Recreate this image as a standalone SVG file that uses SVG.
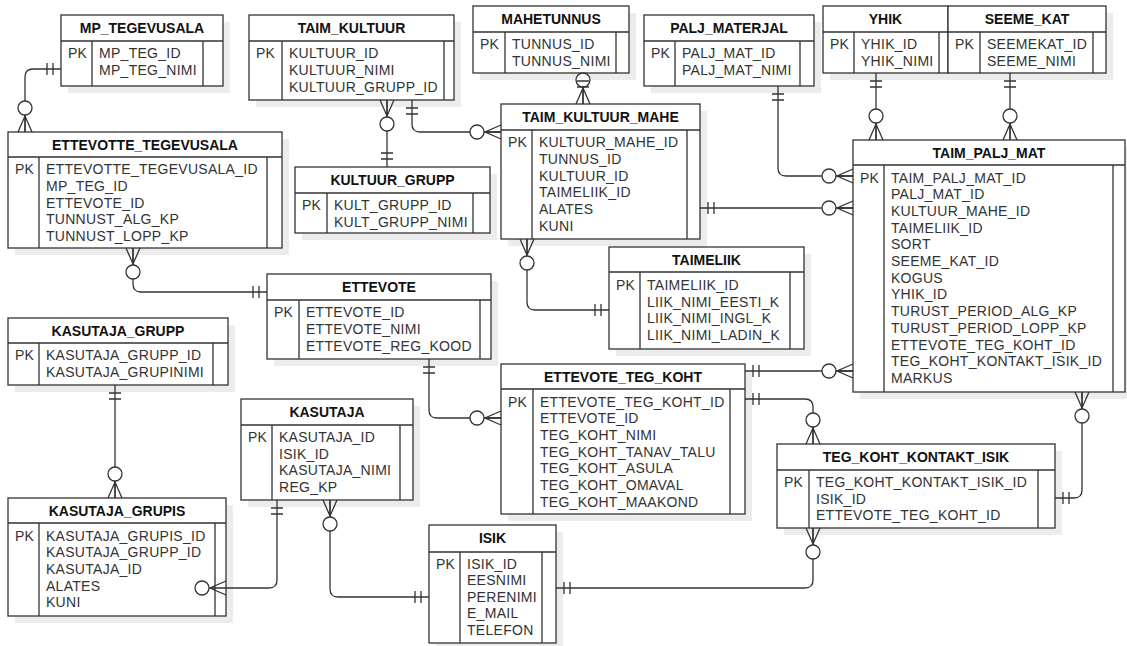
<svg xmlns="http://www.w3.org/2000/svg" xmlns:xlink="http://www.w3.org/1999/xlink" width="1127" height="646" viewBox="0 0 1127 646">
<style>
.sh{fill:#ececec}
.bx{fill:#fff;stroke:#333;stroke-width:1.3}
.dv{stroke:#333;stroke-width:1.3}
.ln{fill:none;stroke:#333;stroke-width:1.3}
.h{font-family:"Liberation Sans",Arial,sans-serif;font-size:14px;font-weight:bold;fill:#111;text-anchor:middle}
.f{font-family:"Liberation Sans",Arial,sans-serif;font-size:14px;fill:#333;letter-spacing:0.28px}
.ci{fill:#fff;stroke:#333;stroke-width:1.3}
</style>
<defs>
<g id="one" class="ln"><path d="M8,-6V6M14,-6V6"/></g>
<g id="zm"><path class="ln" d="M0,-7L16,0L0,7M0,0H17"/><circle class="ci" cx="24" cy="0" r="7"/></g>
</defs>
<rect width="1127" height="646" fill="#fff"/>

<g id="MP_TEGEVUSALA">
<rect class="sh" x="68" y="22" width="162" height="71"/>
<rect class="bx" x="61" y="15" width="162" height="71"/>
<path class="dv" d="M61,41H223M92,41V86M203,41V86"/>
<text class="h" x="142" y="33">MP_TEGEVUSALA</text>
<text class="f" x="68" y="58">PK</text>
<text class="f" x="99" y="58">MP_TEG_ID</text>
<text class="f" x="99" y="75">MP_TEG_NIMI</text>
</g>

<g id="TAIM_KULTUUR">
<rect class="sh" x="256" y="22" width="205" height="85"/>
<rect class="bx" x="249" y="15" width="205" height="85"/>
<path class="dv" d="M249,41H454M282,41V100M444,41V100"/>
<text class="h" x="351.5" y="33">TAIM_KULTUUR</text>
<text class="f" x="256" y="58">PK</text>
<text class="f" x="289" y="58">KULTUUR_ID</text>
<text class="f" x="289" y="75">KULTUUR_NIMI</text>
<text class="f" x="289" y="92">KULTUUR_GRUPP_ID</text>
</g>

<g id="MAHETUNNUS">
<rect class="sh" x="480" y="13" width="156" height="67"/>
<rect class="bx" x="473" y="6" width="156" height="67"/>
<path class="dv" d="M473,32H629M505,32V73M616,32V73"/>
<text class="h" x="551" y="24">MAHETUNNUS</text>
<text class="f" x="480" y="49">PK</text>
<text class="f" x="512" y="49">TUNNUS_ID</text>
<text class="f" x="512" y="66">TUNNUS_NIMI</text>
</g>

<g id="PALJ_MATERJAL">
<rect class="sh" x="651" y="22" width="170" height="71"/>
<rect class="bx" x="644" y="15" width="170" height="71"/>
<path class="dv" d="M644,41H814M675,41V86M800,41V86"/>
<text class="h" x="729" y="33">PALJ_MATERJAL</text>
<text class="f" x="651" y="58">PK</text>
<text class="f" x="682" y="58">PALJ_MAT_ID</text>
<text class="f" x="682" y="75">PALJ_MAT_NIMI</text>
</g>

<g id="YHIK">
<rect class="sh" x="830" y="13" width="125" height="67"/>
<rect class="bx" x="823" y="6" width="125" height="67"/>
<path class="dv" d="M823,32H948M854,32V73M939,32V73"/>
<text class="h" x="885.5" y="24">YHIK</text>
<text class="f" x="830" y="49">PK</text>
<text class="f" x="861" y="49">YHIK_ID</text>
<text class="f" x="861" y="66">YHIK_NIMI</text>
</g>

<g id="SEEME_KAT">
<rect class="sh" x="955" y="13" width="158" height="67"/>
<rect class="bx" x="948" y="6" width="158" height="67"/>
<path class="dv" d="M948,32H1106M980,32V73M1093,32V73"/>
<text class="h" x="1027" y="24">SEEME_KAT</text>
<text class="f" x="955" y="49">PK</text>
<text class="f" x="987" y="49">SEEMEKAT_ID</text>
<text class="f" x="987" y="66">SEEME_NIMI</text>
</g>

<g id="ETTEVOTTE_TEGEVUSALA">
<rect class="sh" x="15" y="139" width="274" height="116"/>
<rect class="bx" x="8" y="132" width="274" height="116"/>
<path class="dv" d="M8,157H282M39,157V248M267,157V248"/>
<text class="h" x="145" y="150">ETTEVOTTE_TEGEVUSALA</text>
<text class="f" x="15" y="174">PK</text>
<text class="f" x="46" y="174">ETTEVOTTE_TEGEVUSALA_ID</text>
<text class="f" x="46" y="191">MP_TEG_ID</text>
<text class="f" x="46" y="207.5">ETTEVOTE_ID</text>
<text class="f" x="46" y="224">TUNNUST_ALG_KP</text>
<text class="f" x="46" y="240.5">TUNNUST_LOPP_KP</text>
</g>

<g id="KULTUUR_GRUPP">
<rect class="sh" x="302" y="174" width="195" height="66"/>
<rect class="bx" x="295" y="167" width="195" height="66"/>
<path class="dv" d="M295,193H490M327,193V233M473,193V233"/>
<text class="h" x="392.5" y="185">KULTUUR_GRUPP</text>
<text class="f" x="302" y="210">PK</text>
<text class="f" x="334" y="210">KULT_GRUPP_ID</text>
<text class="f" x="334" y="227">KULT_GRUPP_NIMI</text>
</g>

<g id="TAIM_KULTUUR_MAHE">
<rect class="sh" x="508" y="111" width="199" height="135"/>
<rect class="bx" x="501" y="104" width="199" height="135"/>
<path class="dv" d="M501,130H700M532,130V239M687,130V239"/>
<text class="h" x="600.5" y="122">TAIM_KULTUUR_MAHE</text>
<text class="f" x="508" y="147">PK</text>
<text class="f" x="539" y="147">KULTUUR_MAHE_ID</text>
<text class="f" x="539" y="164">TUNNUS_ID</text>
<text class="f" x="539" y="180.5">KULTUUR_ID</text>
<text class="f" x="539" y="197">TAIMELIIK_ID</text>
<text class="f" x="539" y="214">ALATES</text>
<text class="f" x="539" y="231">KUNI</text>
</g>

<g id="TAIM_PALJ_MAT">
<rect class="sh" x="860" y="147" width="272" height="252"/>
<rect class="bx" x="853" y="140" width="272" height="252"/>
<path class="dv" d="M853,165H1125M884,165V392M1113,165V392"/>
<text class="h" x="989" y="158">TAIM_PALJ_MAT</text>
<text class="f" x="860" y="182.5">PK</text>
<text class="f" x="891" y="182.5">TAIM_PALJ_MAT_ID</text>
<text class="f" x="891" y="199.2">PALJ_MAT_ID</text>
<text class="f" x="891" y="215.9">KULTUUR_MAHE_ID</text>
<text class="f" x="891" y="232.6">TAIMELIIK_ID</text>
<text class="f" x="891" y="249.3">SORT</text>
<text class="f" x="891" y="266">SEEME_KAT_ID</text>
<text class="f" x="891" y="282.7">KOGUS</text>
<text class="f" x="891" y="299.4">YHIK_ID</text>
<text class="f" x="891" y="316.1">TURUST_PERIOD_ALG_KP</text>
<text class="f" x="891" y="332.8">TURUST_PERIOD_LOPP_KP</text>
<text class="f" x="891" y="349.5">ETTEVOTE_TEG_KOHT_ID</text>
<text class="f" x="891" y="366.2">TEG_KOHT_KONTAKT_ISIK_ID</text>
<text class="f" x="891" y="382.9">MARKUS</text>
</g>

<g id="TAIMELIIK">
<rect class="sh" x="616" y="254" width="195" height="102"/>
<rect class="bx" x="609" y="247" width="195" height="102"/>
<path class="dv" d="M609,272H804M640,272V349M790,272V349"/>
<text class="h" x="706.5" y="265">TAIMELIIK</text>
<text class="f" x="616" y="290">PK</text>
<text class="f" x="647" y="290">TAIMELIIK_ID</text>
<text class="f" x="647" y="306.7">LIIK_NIMI_EESTI_K</text>
<text class="f" x="647" y="323.4">LIIK_NIMI_INGL_K</text>
<text class="f" x="647" y="340.1">LIIK_NIMI_LADIN_K</text>
</g>

<g id="ETTEVOTE">
<rect class="sh" x="274" y="281" width="224" height="85"/>
<rect class="bx" x="267" y="274" width="224" height="85"/>
<path class="dv" d="M267,300H491M299,300V359M480,300V359"/>
<text class="h" x="379" y="292">ETTEVOTE</text>
<text class="f" x="274" y="317">PK</text>
<text class="f" x="306" y="317">ETTEVOTE_ID</text>
<text class="f" x="306" y="334">ETTEVOTE_NIMI</text>
<text class="f" x="306" y="351">ETTEVOTE_REG_KOOD</text>
</g>

<g id="KASUTAJA_GRUPP">
<rect class="sh" x="15" y="325" width="220" height="67"/>
<rect class="bx" x="8" y="318" width="220" height="67"/>
<path class="dv" d="M8,343H228M39,343V385M213,343V385"/>
<text class="h" x="118" y="336">KASUTAJA_GRUPP</text>
<text class="f" x="15" y="360">PK</text>
<text class="f" x="46" y="360">KASUTAJA_GRUPP_ID</text>
<text class="f" x="46" y="377">KASUTAJA_GRUPINIMI</text>
</g>

<g id="ETTEVOTE_TEG_KOHT">
<rect class="sh" x="508" y="371" width="244" height="150"/>
<rect class="bx" x="501" y="364" width="244" height="150"/>
<path class="dv" d="M501,389H745M533,389V514M730,389V514"/>
<text class="h" x="623" y="382">ETTEVOTE_TEG_KOHT</text>
<text class="f" x="508" y="406.5">PK</text>
<text class="f" x="540" y="406.5">ETTEVOTE_TEG_KOHT_ID</text>
<text class="f" x="540" y="423.2">ETTEVOTE_ID</text>
<text class="f" x="540" y="439.9">TEG_KOHT_NIMI</text>
<text class="f" x="540" y="456.6">TEG_KOHT_TANAV_TALU</text>
<text class="f" x="540" y="473.3">TEG_KOHT_ASULA</text>
<text class="f" x="540" y="490">TEG_KOHT_OMAVAL</text>
<text class="f" x="540" y="506.7">TEG_KOHT_MAAKOND</text>
</g>

<g id="TEG_KOHT_KONTAKT_ISIK">
<rect class="sh" x="784" y="451" width="278" height="84"/>
<rect class="bx" x="777" y="444" width="278" height="84"/>
<path class="dv" d="M777,470H1055M809,470V528M1038,470V528"/>
<text class="h" x="916" y="462">TEG_KOHT_KONTAKT_ISIK</text>
<text class="f" x="784" y="487">PK</text>
<text class="f" x="816" y="487">TEG_KOHT_KONTAKT_ISIK_ID</text>
<text class="f" x="816" y="503.7">ISIK_ID</text>
<text class="f" x="816" y="520.4">ETTEVOTE_TEG_KOHT_ID</text>
</g>

<g id="KASUTAJA">
<rect class="sh" x="248" y="406" width="172" height="101"/>
<rect class="bx" x="241" y="399" width="172" height="101"/>
<path class="dv" d="M241,425H413M272,425V500M400,425V500"/>
<text class="h" x="327" y="417">KASUTAJA</text>
<text class="f" x="248" y="442">PK</text>
<text class="f" x="279" y="442">KASUTAJA_ID</text>
<text class="f" x="279" y="458.7">ISIK_ID</text>
<text class="f" x="279" y="475.4">KASUTAJA_NIMI</text>
<text class="f" x="279" y="492.1">REG_KP</text>
</g>

<g id="ISIK">
<rect class="sh" x="436" y="532" width="127" height="118"/>
<rect class="bx" x="429" y="525" width="127" height="118"/>
<path class="dv" d="M429,552H556M460,552V643M542,552V643"/>
<text class="h" x="492.5" y="543">ISIK</text>
<text class="f" x="436" y="568.5">PK</text>
<text class="f" x="467" y="568.5">ISIK_ID</text>
<text class="f" x="467" y="585">EESNIMI</text>
<text class="f" x="467" y="601.5">PERENIMI</text>
<text class="f" x="467" y="618">E_MAIL</text>
<text class="f" x="467" y="634.5">TELEFON</text>
</g>

<g id="KASUTAJA_GRUPIS">
<rect class="sh" x="15" y="505" width="218" height="118"/>
<rect class="bx" x="8" y="498" width="218" height="118"/>
<path class="dv" d="M8,523H226M39,523V616M215,523V616"/>
<text class="h" x="117" y="516">KASUTAJA_GRUPIS</text>
<text class="f" x="15" y="540.5">PK</text>
<text class="f" x="46" y="540.5">KASUTAJA_GRUPIS_ID</text>
<text class="f" x="46" y="557.2">KASUTAJA_GRUPP_ID</text>
<text class="f" x="46" y="573.9">KASUTAJA_ID</text>
<text class="f" x="46" y="590.6">ALATES</text>
<text class="f" x="46" y="607.3">KUNI</text>
</g>

<g id="connectors">
<path class="ln" d="M61,69H33Q25,69 25,77V132"/>
<use xlink:href="#one" transform="translate(61,69) rotate(180)"/>
<use xlink:href="#zm" transform="translate(25,132) rotate(-90)"/>

<path class="ln" d="M387,100V167"/>
<use xlink:href="#zm" transform="translate(387,100) rotate(90)"/>
<use xlink:href="#one" transform="translate(387,167) rotate(-90)"/>

<path class="ln" d="M412,100V124Q412,132 420,132H501"/>
<use xlink:href="#one" transform="translate(412,100) rotate(90)"/>
<use xlink:href="#zm" transform="translate(501,132) rotate(180)"/>

<path class="ln" d="M583,73V104"/>
<use xlink:href="#zm" transform="translate(583,104) rotate(-90)"/>
<use xlink:href="#one" transform="translate(583,73) rotate(90)"/>

<path class="ln" d="M778,86V168Q778,176 786,176H853"/>
<use xlink:href="#one" transform="translate(778,86) rotate(90)"/>
<use xlink:href="#zm" transform="translate(853,176) rotate(180)"/>

<path class="ln" d="M700,208H853"/>
<use xlink:href="#one" transform="translate(700,208)"/>
<use xlink:href="#zm" transform="translate(853,208) rotate(180)"/>

<path class="ln" d="M876,73V140"/>
<use xlink:href="#one" transform="translate(876,73) rotate(90)"/>
<use xlink:href="#zm" transform="translate(876,140) rotate(-90)"/>

<path class="ln" d="M1010,73V140"/>
<use xlink:href="#one" transform="translate(1010,73) rotate(90)"/>
<use xlink:href="#zm" transform="translate(1010,140) rotate(-90)"/>

<path class="ln" d="M133,248V284Q133,292 141,292H267"/>
<use xlink:href="#zm" transform="translate(133,248) rotate(90)"/>
<use xlink:href="#one" transform="translate(267,292) rotate(180)"/>

<path class="ln" d="M527,239V302Q527,310 535,310H609"/>
<use xlink:href="#zm" transform="translate(527,239) rotate(90)"/>
<use xlink:href="#one" transform="translate(609,310) rotate(180)"/>

<path class="ln" d="M429,359V410Q429,418 437,418H501"/>
<use xlink:href="#one" transform="translate(429,359) rotate(90)"/>
<use xlink:href="#zm" transform="translate(501,418) rotate(180)"/>

<path class="ln" d="M745,371H853"/>
<use xlink:href="#one" transform="translate(745,371)"/>
<use xlink:href="#zm" transform="translate(853,371) rotate(180)"/>

<path class="ln" d="M745,399H805Q813,399 813,407V444"/>
<use xlink:href="#one" transform="translate(745,399)"/>
<use xlink:href="#zm" transform="translate(813,444) rotate(-90)"/>

<path class="ln" d="M1082,392V490Q1082,498 1074,498H1055"/>
<use xlink:href="#zm" transform="translate(1082,392) rotate(90)"/>
<use xlink:href="#one" transform="translate(1055,498)"/>

<path class="ln" d="M813,528V580Q813,588 805,588H556"/>
<use xlink:href="#zm" transform="translate(813,528) rotate(90)"/>
<use xlink:href="#one" transform="translate(556,588)"/>

<path class="ln" d="M330,500V589Q330,597 338,597H429"/>
<use xlink:href="#zm" transform="translate(330,500) rotate(90)"/>
<use xlink:href="#one" transform="translate(429,597) rotate(180)"/>

<path class="ln" d="M277,500V580Q277,588 269,588H226"/>
<use xlink:href="#one" transform="translate(277,500) rotate(90)"/>
<use xlink:href="#zm" transform="translate(226,588) rotate(180)"/>

<path class="ln" d="M115,385V498"/>
<use xlink:href="#one" transform="translate(115,385) rotate(90)"/>
<use xlink:href="#zm" transform="translate(115,498) rotate(-90)"/>
</g>
</svg>
